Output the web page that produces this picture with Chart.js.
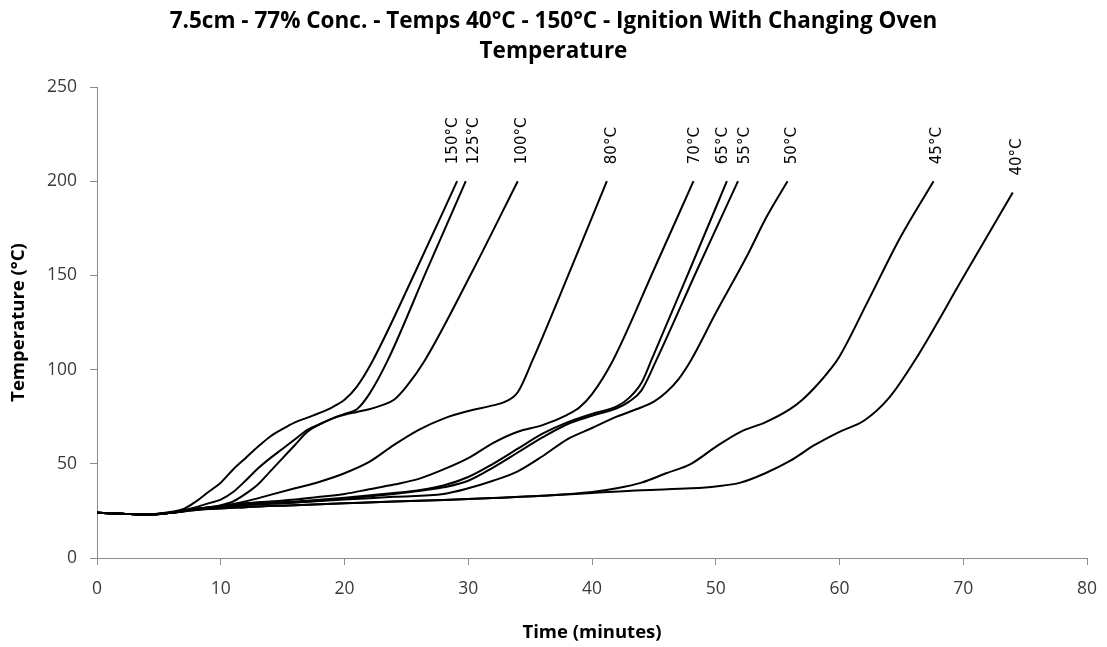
<!DOCTYPE html>
<html lang="en">
<head>
    <meta charset="utf-8">
    <title>Ignition With Changing Oven Temperature</title>
    <script src="https://cdn.jsdelivr.net/npm/chart.js@4.4.1/dist/chart.umd.min.js"></script>
    <style>
        body {
            margin: 0;
            background: #ffffff;
        }
        #wrap {
            width: 1107px;
            height: 647px;
        }
    </style>
</head>
<body>
    <div id="wrap">
        <canvas id="chart" width="1107" height="647"></canvas>
    </div>
    <script>
        // readings (time in minutes, temperature in °C)
        const seriesNames = ["150°C", "125°C", "100°C", "80°C", "70°C", "65°C", "55°C", "50°C", "45°C", "40°C"];

        const time150 = [0, 2, 4, 6, 7, 8, 9, 10, 11, 12, 13, 14, 15, 16, 17, 18, 19, 20, 21, 22.3, 25.8, 29.1];
        const temp150 = [24, 23.5, 23, 24.5, 26, 30, 35, 40, 47, 53, 59, 64.5, 68.5, 72, 74.5, 77, 80, 84, 91, 105, 153, 200];

        const time125 = [0, 2, 4, 6, 8, 9, 10, 11, 12, 13, 14, 15, 16, 17, 18, 19, 20, 21, 22, 23.5, 26.6, 29.8];
        const temp125 = [24, 23.5, 23, 24, 27, 29, 31, 35, 41, 47.5, 53, 58, 63, 68, 71, 74, 76.5, 79, 87, 105, 152, 200];

        const time100 = [0, 2, 4, 6, 8, 10, 11, 12, 13, 14, 15, 16, 17, 18, 19, 20, 21, 22, 23, 24, 25, 26.5, 30.4, 34.0];
        const temp100 = [24, 23.5, 23, 24, 26, 28, 30, 34, 39, 46, 53, 60, 67, 71, 74, 76, 77.5, 79, 81, 84, 91, 105, 153, 200];

        const time80 = [0, 2, 4, 6, 8, 10, 12, 14, 16, 18, 20, 22, 24, 26, 28, 30, 32, 33, 34, 35.2, 38.2, 41.2];
        const temp80 = [24, 23.5, 23, 24, 26, 27.5, 30, 33.5, 37, 40.5, 45, 51, 60, 68, 74, 78, 81, 83, 88, 105, 152, 200];

        const time70 = [0, 2, 4, 6, 8, 10, 12, 14, 16, 18, 20, 22, 24, 26, 28, 30, 32, 34, 36, 38, 39, 40, 41.7, 45, 48.2];
        const temp70 = [24, 23.5, 23, 24, 26, 27.5, 29, 30, 31, 32.5, 34, 36.5, 39, 42, 47, 53, 61, 67, 70.5, 76, 80, 87, 105, 153, 200];

        const time65 = [0, 2, 4, 6, 8, 12, 16, 20, 24, 26, 28, 30, 32, 34, 36, 38, 40, 42, 43, 44, 44.8, 47.9, 50.9];
        const temp65 = [24, 23.5, 23, 24, 26, 28.5, 30, 32, 34.5, 36, 38.5, 43, 50, 58, 66, 72, 76.5, 80.5, 85, 93, 105, 153, 200];

        const time55 = [0, 2, 4, 6, 8, 12, 16, 20, 24, 26, 28, 30, 32, 34, 36, 38, 40, 42, 43, 44, 45.2, 48.5, 51.8];
        const temp55 = [24, 23.5, 23, 24, 26, 28, 29.5, 31.5, 34, 35.5, 37.5, 41, 48, 56, 64, 71, 75.5, 79.5, 83, 89, 105, 153, 200];

        const time50 = [0, 2, 4, 6, 8, 12, 16, 20, 24, 28, 30, 32, 34, 36, 38, 40, 42, 44, 45, 46, 47, 48, 50, 52.5, 54.1, 55.8];
        const temp50 = [24, 23.5, 23, 24, 26, 28, 29.5, 31, 32.5, 34, 37, 41, 46, 54, 63, 69, 75, 80, 83, 88, 95, 105, 130, 160, 181, 200];

        const time45 = [0, 2, 4, 6, 8, 12, 16, 20, 24, 28, 32, 36, 40, 42, 44, 46, 48, 50, 52, 54, 56, 57, 58, 59, 60, 62.2, 64.9, 67.6];
        const temp45 = [24, 23.5, 23, 24, 25.5, 27, 28, 29, 30, 30.8, 31.8, 33, 35, 37, 40, 45, 50, 59, 67, 72, 79, 84, 90.5, 98, 107, 135, 170, 200];

        const time40 = [0, 2, 4, 6, 8, 12, 16, 20, 24, 28, 32, 36, 40, 44, 48, 50, 52, 54, 56, 58, 60, 62, 64, 66.1, 70, 74];
        const temp40 = [24, 23.5, 23, 24, 25.5, 27, 28, 29, 30, 30.8, 31.8, 33, 34.5, 36, 37, 38, 40, 45, 51.5, 60, 67, 73, 85, 105, 149, 194];

        const xTicks = { min: 0, max: 80, step: 10 };
        const yTicks = { min: 0, max: 250, step: 50 };

        const titleLines = ["7.5cm - 77% Conc. - Temps 40°C - 150°C - Ignition With Changing Oven", "Temperature"];

        const seriesTimes = [time150, time125, time100, time80, time70, time65, time55, time50, time45, time40];
        const seriesTemps = [temp150, temp125, temp100, temp80, temp70, temp65, temp55, temp50, temp45, temp40];

        // small sideways shifts so the crowded labels don't overlap (px)
        const labelShift = [-4, 8, 4, 5, 2, -4, 7, 5, 4, 4];

        const datasets = seriesNames.map((name, i) => ({
            label: name,
            data: seriesTimes[i].map((t, j) => ({ x: t, y: seriesTemps[i][j] })),
            borderColor: "#000000",
            borderWidth: 2,
            pointRadius: 0,
            fill: false,
            cubicInterpolationMode: "monotone"
        }));

        const endLabels = {
            id: "endLabels",
            afterDatasetsDraw(chart) {
                const ctx = chart.ctx;
                ctx.save();
                ctx.font = "15px 'DejaVu Sans', sans-serif";
                ctx.fillStyle = "#000000";
                ctx.textAlign = "left";
                ctx.textBaseline = "middle";
                chart.data.datasets.forEach((ds, i) => {
                    const pts = chart.getDatasetMeta(i).data;
                    const last = pts[pts.length - 1];
                    ctx.save();
                    ctx.translate(last.x + labelShift[i], last.y - 17);
                    ctx.rotate(-Math.PI / 2);
                    ctx.fillText(ds.label, 0, 0);
                    ctx.restore();
                });
                ctx.restore();
            }
        };

        // chart title centred on the whole canvas (the built-in one centres on the padded box)
        const pageTitle = {
            id: "pageTitle",
            afterDraw(chart) {
                const ctx = chart.ctx;
                ctx.save();
                ctx.font = "bold 22.5px 'Open Sans', sans-serif";
                ctx.fillStyle = "#000000";
                ctx.textAlign = "center";
                ctx.textBaseline = "middle";
                titleLines.forEach((line, i) => {
                    ctx.fillText(line, chart.width / 2, 22 + i * 30);
                });
                ctx.restore();
            }
        };

        const tickFont = { family: "'Open Sans', sans-serif", size: 17.5 };
        // tall line height pushes the x labels down without a big tick padding
        // (tick padding also widens the right-hand gap)
        const xTickFont = { family: "'Open Sans', sans-serif", size: 17.5, lineHeight: 2.4 };
        const axisTitleFont = { family: "'Open Sans', sans-serif", size: 18.5, weight: "bold", lineHeight: 1.2 };

        new Chart(document.getElementById("chart"), {
            type: "line",
            data: { datasets: datasets },
            plugins: [endLabels, pageTitle],
            options: {
                responsive: false,
                animation: false,
                layout: { padding: { left: 0, right: 20, top: 87, bottom: 0 } },
                plugins: {
                    legend: { display: false },
                    tooltip: { enabled: false },
                    title: { display: false }
                },
                scales: {
                    x: {
                        type: "linear",
                        min: xTicks.min,
                        max: xTicks.max,
                        afterFit: (s) => { s.height = 89; },
                        ticks: { stepSize: xTicks.step, color: "#3b3b3b", font: xTickFont, padding: 3, maxRotation: 0 },
                        grid: { drawOnChartArea: false, color: "#8c8c8c", tickLength: 7 },
                        border: { color: "#8c8c8c" },
                        title: { display: true, text: "Time (minutes)", color: "#000000", font: axisTitleFont, padding: { top: 0, bottom: 3 } }
                    },
                    y: {
                        min: yTicks.min,
                        max: yTicks.max,
                        afterFit: (s) => { s.width = 97; },
                        ticks: { stepSize: yTicks.step, color: "#3b3b3b", font: tickFont, padding: 13 },
                        grid: { drawOnChartArea: false, color: "#8c8c8c", tickLength: 7 },
                        border: { color: "#8c8c8c" },
                        title: { display: true, text: "Temperature (°C)", color: "#000000", font: axisTitleFont, padding: { top: 8, bottom: 0 } }
                    }
                }
            }
        });
    </script>
</body>
</html>
